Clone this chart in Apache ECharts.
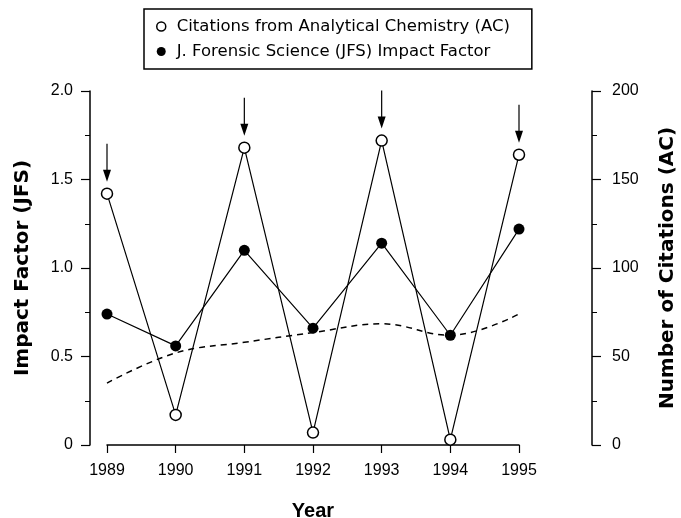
<!DOCTYPE html>
<html>
<head>
<meta charset="utf-8">
<script src="https://cdn.jsdelivr.net/npm/echarts@6/dist/echarts.min.js"></script>
<style>
html, body { margin: 0; padding: 0; background: #fff; }
#main { width: 681px; height: 518px; }
</style>
</head>
<body>
<div id="main"></div>
<script>
var years = ['1989', '1990', '1991', '1992', '1993', '1994', '1995'];
// citations from Analytical Chemistry (right axis)
var citations = [142, 17, 168, 7, 172, 3, 164];
// JFS impact factor (left axis)
var impactFactor = [0.74, 0.56, 1.10, 0.66, 1.14, 0.62, 1.22];
// dashed trend (left axis)
var trend = [0.35, 0.52, 0.58, 0.635, 0.685, 0.62, 0.74];
// years marked with an arrow
var arrowYears = ['1989', '1991', '1993', '1995'];

var font = 'Liberation Sans, Arial, sans-serif';
var wideFont = 'DejaVu Sans, sans-serif';
var arrowPath = 'path://M3.4,0 L4.6,0 L4.6,28 L3.4,28 Z M0,26 L8,26 L4,38 Z';

var dom = document.getElementById('main');
var myChart = echarts.init(dom);

var option = {
    animation: false,
    backgroundColor: '#fff',
    textStyle: { fontFamily: font, color: '#000' },
    legend: {
        orient: 'vertical',
        left: 144,
        top: 9,
        padding: [9, 22, 9, 12],
        borderColor: '#000',
        borderWidth: 1.5,
        itemGap: 8,
        itemWidth: 9,
        itemHeight: 9,
        textStyle: { fontSize: 16.5, fontFamily: wideFont, color: '#000', padding: [0, 0, 0, 6] },
        data: [
            { name: 'Citations from Analytical Chemistry (AC)', icon: 'circle',
              itemStyle: { color: '#fff', borderColor: '#000', borderWidth: 1.5 } },
            { name: 'J. Forensic Science (JFS) Impact Factor', icon: 'circle',
              itemStyle: { color: '#000', borderColor: '#000', borderWidth: 0 } }
        ]
    },
    grid: { left: 107, right: 162, top: 91, bottom: 73, outerBoundsMode: 'none', containLabel: false },
    xAxis: {
        type: 'category',
        data: years,
        boundaryGap: false,
        name: 'Year',
        nameLocation: 'middle',
        nameGap: 56,
        nameTextStyle: { fontSize: 20, fontWeight: 'bold', fontFamily: font },
        axisLine: { lineStyle: { color: '#000', width: 1.5 } },
        axisTick: { length: 8, lineStyle: { color: '#000', width: 1.2 } },
        axisLabel: { fontSize: 16, color: '#000', margin: 18 },
        splitLine: { show: false }
    },
    yAxis: [
        {
            type: 'value',
            position: 'left',
            offset: 17,
            min: 0,
            max: 2,
            interval: 0.5,
            name: 'Impact Factor (JFS)',
            nameLocation: 'middle',
            nameRotate: 90,
            nameGap: 57,
            nameTextStyle: { fontSize: 20, fontWeight: 'bold', fontFamily: wideFont },
            axisLine: { show: true, lineStyle: { color: '#000', width: 1.5 } },
            axisTick: { show: true, length: 9, lineStyle: { color: '#000', width: 1.2 } },
            minorTick: { show: true, splitNumber: 2, length: 5, lineStyle: { color: '#000', width: 1 } },
            axisLabel: {
                fontSize: 16, color: '#000', margin: 17,
                formatter: function (v) { return v === 0 ? '0' : v.toFixed(1); }
            },
            splitLine: { show: false }
        },
        {
            type: 'value',
            position: 'right',
            offset: 73,
            min: 0,
            max: 200,
            interval: 50,
            name: 'Number of Citations (AC)',
            nameLocation: 'middle',
            nameRotate: 90,
            nameGap: 66,
            nameTextStyle: { fontSize: 20, fontWeight: 'bold', fontFamily: wideFont },
            axisLine: { show: true, lineStyle: { color: '#000', width: 1.5 } },
            axisTick: { show: true, length: 9, lineStyle: { color: '#000', width: 1.2 } },
            minorTick: { show: true, splitNumber: 2, length: 5, lineStyle: { color: '#000', width: 1 } },
            axisLabel: { fontSize: 16, color: '#000', margin: 20 },
            splitLine: { show: false }
        }
    ],
    series: [
        {
            name: 'Citations from Analytical Chemistry (AC)',
            type: 'line',
            yAxisIndex: 1,
            data: citations,
            symbol: 'circle',
            symbolSize: 11,
            itemStyle: { color: '#fff', borderColor: '#000', borderWidth: 1.5 },
            lineStyle: { color: '#000', width: 1.2 },
            z: 4,
            markPoint: {
                symbol: arrowPath,
                symbolSize: [8, 38],
                symbolOffset: [0, -31],
                label: { show: false },
                itemStyle: { color: '#000', borderWidth: 0 },
                data: arrowYears.map(function (y) {
                    return { coord: [y, citations[years.indexOf(y)]] };
                })
            }
        },
        {
            name: 'J. Forensic Science (JFS) Impact Factor',
            type: 'line',
            yAxisIndex: 0,
            data: impactFactor,
            symbol: 'circle',
            symbolSize: 11,
            itemStyle: { color: '#000', borderColor: '#000', borderWidth: 0 },
            lineStyle: { color: '#000', width: 1.2 },
            z: 3
        },
        {
            name: 'trend',
            type: 'line',
            yAxisIndex: 0,
            data: trend,
            smooth: 0.4,
            showSymbol: false,
            symbol: 'none',
            lineStyle: { color: '#000', width: 1.5, type: [6, 5] },
            z: 2
        }
    ]
};

if (option && typeof option === 'object') {
    myChart.setOption(option, true);
}
</script>
</body>
</html>
